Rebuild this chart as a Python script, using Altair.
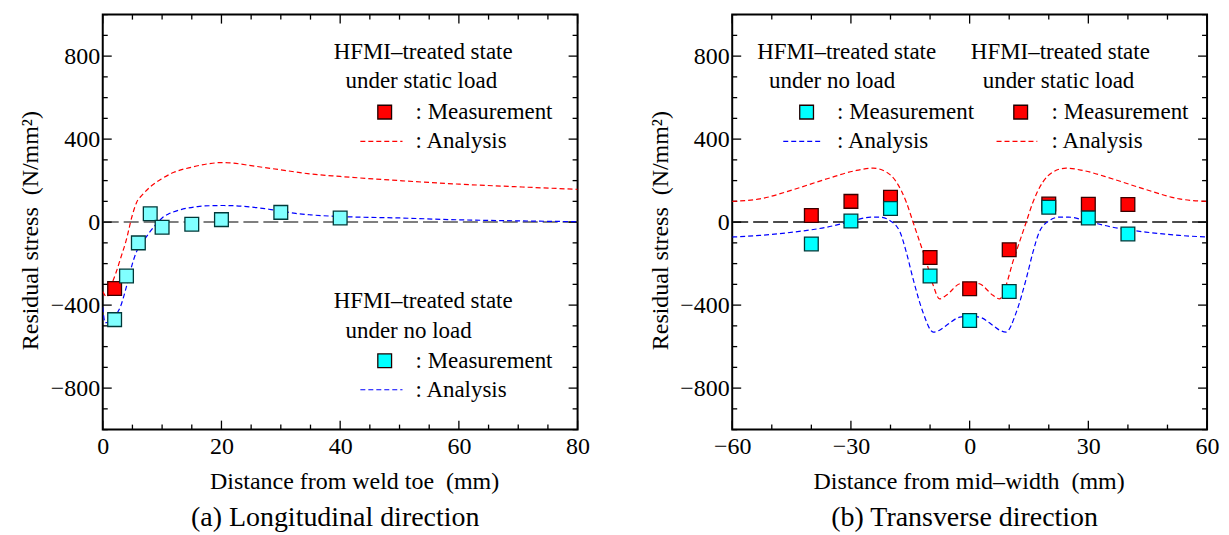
import altair as alt
import pandas as pd

FONT = "Liberation Serif"
W, H = 476, 416
RED = "#ff0000"
BLUE = "#0000ff"
CYAN_A = "#80ffff"
CYAN = "#00ffff"

# ---------------- Panel (a): longitudinal direction ----------------
a_meas_x = [2, 4, 6, 8, 10, 15, 20, 30, 40]
a_noload_meas_y = [-470, -260, -100, 40, -25, -10, 12, 47, 20]
a_static_meas_x = [2]
a_static_meas_y = [-320]

a_noload_x = [0, 0.4, 1, 2, 3, 4, 5, 5.6, 6, 7, 8, 9, 10, 11, 12, 14, 16, 18, 20,
              22, 25, 28, 30, 32.5, 35, 40, 50, 60, 70, 80]
a_noload_y = [-410, -485, -482, -455, -406, -310, -200, -149, -125, -85, -45, -10, 20,
              38, 50, 66, 75, 79, 80, 79, 73, 62, 54, 42, 35, 27, 20, 11, 6, 2]
a_static_x = [0, 0.7, 1.5, 2.3, 3, 3.9, 5, 5.7, 6.7, 8, 10, 12, 15, 18, 20, 22, 25,
              30, 35, 40, 50, 60, 70, 80]
a_static_y = [-335, -360, -300, -238, -175, -93, 35, 95, 132, 170, 210, 240, 265, 282,
              287, 284, 272, 252, 232, 220, 200, 183, 170, 158]

# ---------------- Panel (b): transverse direction ----------------
b_meas_x = [-40, -30, -20, -10, 0, 10, 20, 30, 40]
b_noload_meas_y = [-105, 5, 66, -260, -474, -334, 72, 20, -57]
b_static_meas_y = [32, 100, 120, -171, -321, -133, 87, 86, 85]

b_noload_x = [-60, -53, -44.5, -36, -30, -25, -22.7, -20.2, -17.6, -16, -14.3, -11.8,
              -9.2, -7.5, -5.9, -2.5, 0, 2.5, 5.9, 7.5, 9.2, 11.8, 14.3, 16, 17.6,
              20.2, 22.7, 25, 30, 36, 44.5, 53, 60]
b_noload_y = [-72, -64, -48, -24, 3, 24, 24, 8, -48, -145, -273, -434, -530, -520,
              -498, -458, -453, -458, -498, -520, -530, -434, -273, -145, -48, 8, 24,
              24, 3, -24, -48, -64, -72]
b_static_x = [-60, -53, -44.5, -36, -28.6, -24.4, -21, -18.5, -16, -14.3, -12.6, -10.9,
              -9.2, -7.6, -5.9, -2.5, 0, 2.5, 5.9, 7.6, 9.2, 10.9, 12.6, 14.3, 16, 18.5,
              21, 24.4, 28.6, 36, 44.5, 53, 60]
b_static_y = [100, 112, 157, 209, 249, 260, 241, 193, 96, 0, -96, -193, -305, -370,
              -353, -297, -290, -297, -353, -370, -305, -193, -96, 0, 96, 193, 241, 260,
              249, 209, 157, 112, 100]

zero_ref = [0]

# axis ticks
y_major = [-800, -400, 0, 400, 800]
y_minor = [-1000, -900, -700, -600, -500, -300, -200, -100, 100, 200, 300, 500, 600, 700, 900, 1000]
a_x_labels = [0, 20, 40, 60, 80]
a_x_minor = [5, 10, 15, 25, 30, 35, 45, 50, 55, 65, 70, 75]
b_x_labels = [-60, -30, 0, 30, 60]
b_x_minor = [-50, -40, -20, -10, 10, 20, 40, 50]

# legend annotations (data coordinates)
a_leg_text = ["HFMI\u2013treated state", "under static load", ": Measurement", ": Analysis",
              "HFMI\u2013treated state", "under no load", ": Measurement", ": Analysis"]
a_leg_tx = [38.9, 40.9, 52.7, 52.7, 38.9, 40.9, 52.7, 52.7]
a_leg_ty = [819, 678, 530, 389, -380, -524, -668, -808]
a_sym_x = [47.5, 47.5]
a_sym_y = [530, -668]
a_sym_c = ["static", "noload"]
a_dash_x = [43.4, 43.4]
a_dash_x2 = [50.5, 50.5]
a_dash_y = [389, -808]
a_dash_c = ["static", "noload"]

b_leg_text = ["HFMI\u2013treated state", "under no load", ": Measurement", ": Analysis",
              "HFMI\u2013treated state", "under static load", ": Measurement", ": Analysis"]
b_leg_tx = [-53.7, -50.7, -33.5, -33.5, 0.3, 3.3, 20.7, 20.7]
b_leg_ty = [819, 678, 530, 389, 819, 678, 530, 389]
b_sym_x = [-41.2, 12.9]
b_sym_y = [530, 530]
b_sym_c = ["noload", "static"]
b_dash_x = [-47.1, 6.8]
b_dash_x2 = [-37.1, 17.1]
b_dash_y = [389, 389]
b_dash_c = ["noload", "static"]


def panel(xdom, xlabels, xminor, xtitle, xtitle_x, caption,
          noload_x, noload_y, static_x, static_y,
          meas_x_noload, meas_y_noload, meas_x_static, meas_y_static,
          leg_text, leg_tx, leg_ty, sym_x, sym_y, sym_c, dash_x, dash_x2, dash_y, dash_c,
          cyan_fill, zero_color):
    xs = alt.Scale(domain=xdom, nice=False, zero=False)
    ys = alt.Scale(domain=[-1000, 1000], nice=False, zero=False)
    xax = alt.Axis(values=xlabels, title=xtitle, ticks=False, domain=False, grid=False,
                   labelPadding=5, labelOverlap=False, labelFlush=False,
                   labelFont=FONT, labelFontSize=24, labelColor="black",
                   titleFont=FONT, titleFontSize=24, titleFontWeight="normal", titleColor="black",
                   titleX=xtitle_x, titleY=52, titleBaseline="middle", titleAlign="center")
    yax = alt.Axis(values=y_major, title="Residual stress\u00a0 (N/mm\u00b2)", ticks=False,
                   domain=False, grid=False, labelPadding=3, labelOverlap=False,
                   labelFont=FONT, labelFontSize=24, labelColor="black",
                   titleFont=FONT, titleFontSize=24, titleFontWeight="normal", titleColor="black",
                   titleX=-72, titleY=216, titleBaseline="middle", titleAlign="center",
                   titleAngle=270)

    def X(f):
        return alt.X(f, type="quantitative", scale=xs, axis=xax)

    def Y(f):
        return alt.Y(f, type="quantitative", scale=ys, axis=yax)

    layers = []
    # zero reference line
    layers.append(alt.Chart(pd.DataFrame({"y": zero_ref})).mark_rule(
        color=zero_color, strokeDash=[15, 5], strokeWidth=1.5).encode(y=Y("y")))

    # inward ticks on all four sides
    for vals, ln in ((xlabels, 9), (xminor, 5)):
        df = pd.DataFrame({"x": vals})
        base = alt.Chart(df).mark_rule(color="black", strokeWidth=1.3)
        layers.append(base.encode(x=X("x"), y=alt.value(H), y2=alt.value(H - ln)))
        layers.append(base.encode(x=X("x"), y=alt.value(0), y2=alt.value(ln)))
    for vals, ln in ((y_major, 9), (y_minor, 5)):
        df = pd.DataFrame({"y": vals})
        base = alt.Chart(df).mark_rule(color="black", strokeWidth=1.3)
        layers.append(base.encode(y=Y("y"), x=alt.value(0), x2=alt.value(ln)))
        layers.append(base.encode(y=Y("y"), x=alt.value(W), x2=alt.value(W - ln)))

    # analysis curves
    layers.append(alt.Chart(pd.DataFrame({"x": static_x, "y": static_y})).mark_line(
        color=RED, strokeDash=[5, 3], strokeWidth=1.2, interpolate="monotone", clip=True
    ).encode(x=X("x"), y=Y("y")))
    layers.append(alt.Chart(pd.DataFrame({"x": noload_x, "y": noload_y})).mark_line(
        color=BLUE, strokeDash=[5, 3], strokeWidth=1.2, interpolate="monotone", clip=True
    ).encode(x=X("x"), y=Y("y")))

    # measurements
    sq = dict(size=190, opacity=1, strokeWidth=1.3, shape="square", filled=True)
    layers.append(alt.Chart(pd.DataFrame({"x": meas_x_static, "y": meas_y_static})).mark_point(
        fill=RED, stroke="#3a0000", **sq).encode(x=X("x"), y=Y("y")))
    layers.append(alt.Chart(pd.DataFrame({"x": meas_x_noload, "y": meas_y_noload})).mark_point(
        fill=cyan_fill, stroke="#003838", **sq).encode(x=X("x"), y=Y("y")))

    # legend: dashes, symbols, texts
    cmap = alt.Scale(domain=["static", "noload"], range=[RED, BLUE])
    fmap = alt.Scale(domain=["static", "noload"], range=[RED, CYAN])
    layers.append(alt.Chart(pd.DataFrame({"x": dash_x, "x2": dash_x2, "y": dash_y, "c": dash_c})).mark_rule(
        strokeDash=[5, 3], strokeWidth=1.2).encode(
        x=X("x"), x2="x2", y=Y("y"), color=alt.Color("c:N", scale=cmap, legend=None)))
    layers.append(alt.Chart(pd.DataFrame({"x": sym_x, "y": sym_y, "c": sym_c})).mark_point(
        stroke="#200000", **sq).encode(
        x=X("x"), y=Y("y"), fill=alt.Fill("c:N", scale=fmap, legend=None)))
    layers.append(alt.Chart(pd.DataFrame({"x": leg_tx, "y": leg_ty, "t": leg_text})).mark_text(
        font=FONT, fontSize=23, align="left", baseline="middle", color="black").encode(
        x=X("x"), y=Y("y"), text="t:N"))

    return alt.layer(*layers).properties(
        width=W, height=H,
        title=alt.TitleParams(caption, orient="bottom", anchor="middle", offset=11, dx=-5,
                              font=FONT, fontSize=28, fontWeight="normal", color="black"))


pa = panel([0, 80], a_x_labels, a_x_minor, "Distance from weld toe\u00a0 (mm)", 252,
           "(a) Longitudinal direction",
           a_noload_x, a_noload_y, a_static_x, a_static_y,
           a_meas_x, a_noload_meas_y, a_static_meas_x, a_static_meas_y,
           a_leg_text, a_leg_tx, a_leg_ty, a_sym_x, a_sym_y, a_sym_c,
           a_dash_x, a_dash_x2, a_dash_y, a_dash_c, CYAN_A, "#555555")

pb = panel([-60, 60], b_x_labels, b_x_minor, "Distance from mid\u2013width\u00a0 (mm)", 237,
           "(b) Transverse direction",
           b_noload_x, b_noload_y, b_static_x, b_static_y,
           b_meas_x, b_noload_meas_y, b_meas_x, b_static_meas_y,
           b_leg_text, b_leg_tx, b_leg_ty, b_sym_x, b_sym_y, b_sym_c,
           b_dash_x, b_dash_x2, b_dash_y, b_dash_c, CYAN, "#111111")

chart = alt.hconcat(pa, pb, spacing=155, bounds="flush").properties(
    padding={"left": 18, "top": 12, "right": 9, "bottom": 4},
    background="white"
).configure_view(stroke="black", strokeWidth=2)

chart.save("out.html", embed_options={"renderer": "svg", "actions": False})
